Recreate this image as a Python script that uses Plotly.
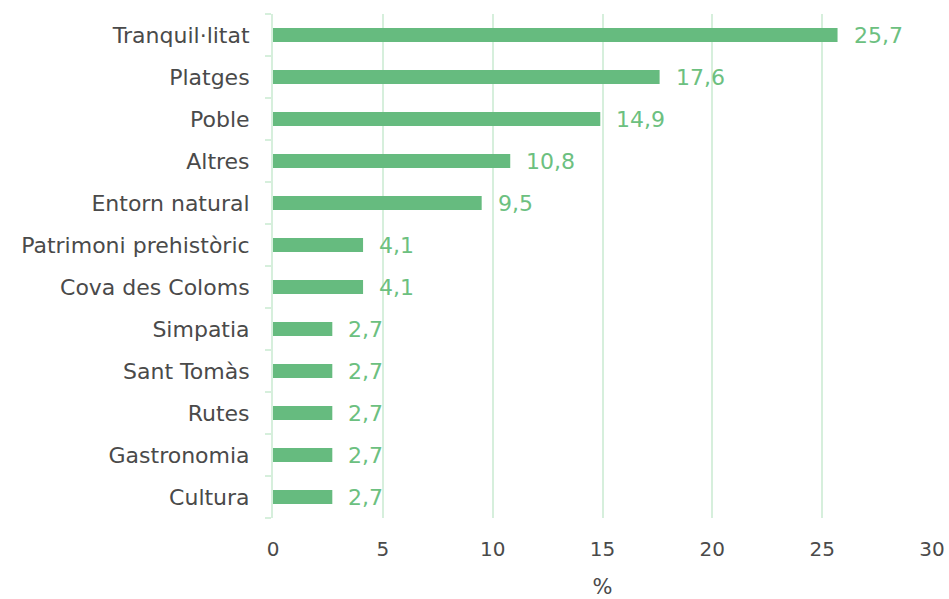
import plotly.graph_objects as go

categories = ["Tranquil·litat", "Platges", "Poble", "Altres", "Entorn natural",
              "Patrimoni prehistòric", "Cova des Coloms", "Simpatia", "Sant Tomàs",
              "Rutes", "Gastronomia", "Cultura"]
values = [25.7, 17.6, 14.9, 10.8, 9.5, 4.1, 4.1, 2.7, 2.7, 2.7, 2.7, 2.7]
labels = [f"{v:.1f}".replace(".", ",") for v in values]
x_ticks = [0, 5, 10, 15, 20, 25, 30]

GREEN = "#66bb7f"
LIGHT = "#d6efdc"
GRAY = "#4a4a4a"
FONT = "DejaVu Sans"

fig = go.Figure(go.Bar(
    y=categories, x=values, orientation="h",
    marker=dict(color=GREEN, line=dict(width=0)),
    width=0.33,
))

for c, v, t in zip(categories, values, labels):
    fig.add_annotation(x=v, y=c, text=t, showarrow=False, xanchor="left",
                       xshift=14, font=dict(family=FONT, size=22, color="#6cc080"))

fig.update_layout(
    width=949, height=599,
    margin=dict(l=273, r=17, t=14, b=81),
    plot_bgcolor="white", paper_bgcolor="white",
    showlegend=False,
    font=dict(family=FONT, color=GRAY),
    xaxis=dict(range=[0, 30], tickvals=x_ticks, ticktext=[str(t) for t in x_ticks],
               automargin=False,
               showgrid=True, gridcolor=LIGHT, gridwidth=1.5, zeroline=False,
               showline=False, tickfont=dict(size=20, color=GRAY),
               title=dict(text="%", font=dict(size=21, color=GRAY), standoff=31),
               ticks="", ticklabelstandoff=17),
    yaxis=dict(categoryorder="array", categoryarray=categories[::-1],
               autorange=False, range=[-0.5, 11.5], automargin=False,
               showline=True, linecolor=LIGHT, linewidth=2,
               ticks="outside", tickson="boundaries", ticklen=6, tickcolor=LIGHT, tickwidth=2,
               tickfont=dict(size=22, color=GRAY), showgrid=False,
               ticklabelstandoff=17),
)

fig.write_html("out.html", config={"displayModeBar": False},
               post_script="document.body.style.margin='0';document.body.style.overflow='hidden';")
